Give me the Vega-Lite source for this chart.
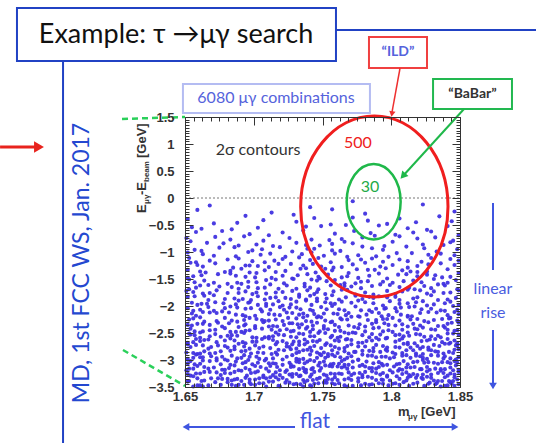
{
"$schema":"https://vega.github.io/schema/vega-lite/v6.json",
"width":275,"height":270,
"autosize":{"type":"none"},
"padding":{"left":185,"top":117,"right":76,"bottom":56},
"background":"white",
"config":{"view":{"stroke":null}},
"resolve":{"axis":{"x":"independent","y":"independent"}},
"datasets":{
"pts":[
{"m":1.772,"e":-0.06},
{"m":1.668,"e":-0.14},{"m":1.741,"e":-0.17},{"m":1.823,"e":-0.12},
{"m":1.713,"e":-0.27},{"m":1.659,"e":-0.22},{"m":1.846,"e":-0.25},{"m":1.781,"e":-0.29},{"m":1.757,"e":-0.21},
{"m":1.694,"e":-0.33},{"m":1.806,"e":-0.38},{"m":1.729,"e":-0.31},{"m":1.772,"e":-0.36},{"m":1.652,"e":-0.39},{"m":1.835,"e":-0.34},{"m":1.744,"e":-0.37},
{"m":1.783,"e":-0.42},{"m":1.671,"e":-0.47},{"m":1.818,"e":-0.45},{"m":1.707,"e":-0.41},{"m":1.756,"e":-0.49},{"m":1.844,"e":-0.43},{"m":1.688,"e":-0.46},{"m":1.731,"e":-0.44},{"m":1.797,"e":-0.48},
{"m":1.662,"e":-0.57},{"m":1.749,"e":-0.52},{"m":1.826,"e":-0.59},{"m":1.703,"e":-0.55},{"m":1.791,"e":-0.51},{"m":1.684,"e":-0.58},{"m":1.738,"e":-0.53},{"m":1.812,"e":-0.56},{"m":1.767,"e":-0.5},{"m":1.655,"e":-0.54},{"m":1.841,"e":-0.52},
{"m":1.721,"e":-0.64},{"m":1.677,"e":-0.61},{"m":1.803,"e":-0.68},{"m":1.759,"e":-0.66},{"m":1.658,"e":-0.63},{"m":1.849,"e":-0.69},{"m":1.736,"e":-0.6},{"m":1.785,"e":-0.65},{"m":1.697,"e":-0.67},{"m":1.829,"e":-0.62},{"m":1.711,"e":-0.69},{"m":1.773,"e":-0.61},{"m":1.816,"e":-0.64},
{"m":1.693,"e":-0.71},{"m":1.764,"e":-0.76},{"m":1.832,"e":-0.73},{"m":1.707,"e":-0.79},{"m":1.651,"e":-0.74},{"m":1.788,"e":-0.7},{"m":1.742,"e":-0.77},{"m":1.819,"e":-0.75},{"m":1.672,"e":-0.72},{"m":1.755,"e":-0.78},{"m":1.806,"e":-0.71},{"m":1.726,"e":-0.74},{"m":1.683,"e":-0.77},{"m":1.845,"e":-0.79},{"m":1.779,"e":-0.73},
{"m":1.666,"e":-0.83},{"m":1.738,"e":-0.87},{"m":1.801,"e":-0.81},{"m":1.757,"e":-0.85},{"m":1.714,"e":-0.89},{"m":1.843,"e":-0.82},{"m":1.689,"e":-0.88},{"m":1.772,"e":-0.84},{"m":1.823,"e":-0.86},{"m":1.654,"e":-0.8},{"m":1.731,"e":-0.83},{"m":1.795,"e":-0.89},{"m":1.702,"e":-0.86},{"m":1.766,"e":-0.81},{"m":1.838,"e":-0.87},{"m":1.678,"e":-0.84},{"m":1.748,"e":-0.88},
{"m":1.719,"e":-0.91},{"m":1.657,"e":-0.96},{"m":1.786,"e":-0.93},{"m":1.833,"e":-0.99},{"m":1.744,"e":-0.94},{"m":1.699,"e":-0.97},{"m":1.811,"e":-0.9},{"m":1.763,"e":-0.98},{"m":1.675,"e":-0.92},{"m":1.848,"e":-0.95},{"m":1.728,"e":-0.99},{"m":1.794,"e":-0.96},{"m":1.686,"e":-0.91},{"m":1.757,"e":-0.97},{"m":1.824,"e":-0.93},{"m":1.706,"e":-0.95},{"m":1.662,"e":-0.98},{"m":1.779,"e":-0.9},{"m":1.739,"e":-0.94},
{"m":1.804,"e":-1.02},{"m":1.671,"e":-1.07},{"m":1.735,"e":-1.04},{"m":1.768,"e":-1.09},{"m":1.652,"e":-1.01},{"m":1.846,"e":-1.06},{"m":1.712,"e":-1.03},{"m":1.789,"e":-1.08},{"m":1.696,"e":-1.0},{"m":1.827,"e":-1.05},{"m":1.751,"e":-1.07},{"m":1.663,"e":-1.04},{"m":1.723,"e":-1.09},{"m":1.815,"e":-1.02},{"m":1.776,"e":-1.06},{"m":1.687,"e":-1.08},{"m":1.742,"e":-1.01},{"m":1.836,"e":-1.03},{"m":1.705,"e":-1.05},{"m":1.798,"e":-1.09},{"m":1.759,"e":-1.03},
{"m":1.681,"e":-1.14},{"m":1.747,"e":-1.11},{"m":1.822,"e":-1.18},{"m":1.715,"e":-1.16},{"m":1.786,"e":-1.12},{"m":1.658,"e":-1.19},{"m":1.769,"e":-1.15},{"m":1.843,"e":-1.13},{"m":1.699,"e":-1.17},{"m":1.733,"e":-1.1},{"m":1.806,"e":-1.14},{"m":1.668,"e":-1.16},{"m":1.756,"e":-1.19},{"m":1.829,"e":-1.11},{"m":1.721,"e":-1.13},{"m":1.794,"e":-1.18},{"m":1.689,"e":-1.12},{"m":1.741,"e":-1.15},{"m":1.812,"e":-1.17},{"m":1.653,"e":-1.11},{"m":1.778,"e":-1.14},{"m":1.708,"e":-1.19},{"m":1.849,"e":-1.16},
{"m":1.727,"e":-1.22},{"m":1.663,"e":-1.27},{"m":1.801,"e":-1.24},{"m":1.758,"e":-1.29},{"m":1.836,"e":-1.21},{"m":1.694,"e":-1.25},{"m":1.772,"e":-1.23},{"m":1.711,"e":-1.28},{"m":1.654,"e":-1.2},{"m":1.819,"e":-1.26},{"m":1.743,"e":-1.22},{"m":1.685,"e":-1.29},{"m":1.792,"e":-1.27},{"m":1.846,"e":-1.24},{"m":1.736,"e":-1.25},{"m":1.672,"e":-1.21},{"m":1.764,"e":-1.28},{"m":1.827,"e":-1.23},{"m":1.703,"e":-1.26},{"m":1.781,"e":-1.2},{"m":1.659,"e":-1.24},{"m":1.749,"e":-1.27},{"m":1.812,"e":-1.29},{"m":1.718,"e":-1.22},{"m":1.697,"e":-1.25},
{"m":1.788,"e":-1.33},{"m":1.665,"e":-1.38},{"m":1.734,"e":-1.31},{"m":1.814,"e":-1.36},{"m":1.702,"e":-1.39},{"m":1.757,"e":-1.34},{"m":1.841,"e":-1.32},{"m":1.679,"e":-1.37},{"m":1.723,"e":-1.35},{"m":1.796,"e":-1.3},{"m":1.652,"e":-1.33},{"m":1.769,"e":-1.39},{"m":1.826,"e":-1.36},{"m":1.691,"e":-1.31},{"m":1.745,"e":-1.38},{"m":1.808,"e":-1.34},{"m":1.716,"e":-1.37},{"m":1.775,"e":-1.32},{"m":1.683,"e":-1.35},{"m":1.849,"e":-1.39},{"m":1.738,"e":-1.3},{"m":1.661,"e":-1.36},{"m":1.783,"e":-1.33},{"m":1.819,"e":-1.37},{"m":1.708,"e":-1.34},{"m":1.752,"e":-1.31},{"m":1.697,"e":-1.38},
{"m":1.674,"e":-1.41},{"m":1.747,"e":-1.46},{"m":1.832,"e":-1.43},{"m":1.713,"e":-1.48},{"m":1.791,"e":-1.4},{"m":1.656,"e":-1.45},{"m":1.764,"e":-1.47},{"m":1.805,"e":-1.42},{"m":1.728,"e":-1.49},{"m":1.687,"e":-1.44},{"m":1.843,"e":-1.46},{"m":1.739,"e":-1.41},{"m":1.776,"e":-1.48},{"m":1.662,"e":-1.43},{"m":1.819,"e":-1.45},{"m":1.701,"e":-1.47},{"m":1.754,"e":-1.42},{"m":1.797,"e":-1.49},{"m":1.721,"e":-1.44},{"m":1.683,"e":-1.4},{"m":1.837,"e":-1.47},{"m":1.768,"e":-1.45},{"m":1.652,"e":-1.48},{"m":1.732,"e":-1.43},{"m":1.811,"e":-1.41},{"m":1.694,"e":-1.46},{"m":1.784,"e":-1.44},{"m":1.748,"e":-1.49},{"m":1.826,"e":-1.42},
{"m":1.709,"e":-1.52},{"m":1.671,"e":-1.57},{"m":1.783,"e":-1.54},{"m":1.838,"e":-1.59},{"m":1.742,"e":-1.51},{"m":1.657,"e":-1.56},{"m":1.816,"e":-1.53},{"m":1.766,"e":-1.58},{"m":1.696,"e":-1.55},{"m":1.729,"e":-1.5},{"m":1.801,"e":-1.57},{"m":1.847,"e":-1.52},{"m":1.681,"e":-1.59},{"m":1.753,"e":-1.54},{"m":1.822,"e":-1.56},{"m":1.716,"e":-1.51},{"m":1.774,"e":-1.58},{"m":1.664,"e":-1.53},{"m":1.794,"e":-1.55},{"m":1.737,"e":-1.59},{"m":1.831,"e":-1.5},{"m":1.702,"e":-1.56},{"m":1.759,"e":-1.52},{"m":1.688,"e":-1.57},{"m":1.809,"e":-1.54},{"m":1.722,"e":-1.58},{"m":1.653,"e":-1.51},{"m":1.778,"e":-1.55},{"m":1.841,"e":-1.57},{"m":1.746,"e":-1.53},{"m":1.691,"e":-1.59},
{"m":1.763,"e":-1.61},{"m":1.658,"e":-1.66},{"m":1.824,"e":-1.63},{"m":1.718,"e":-1.68},{"m":1.792,"e":-1.6},{"m":1.684,"e":-1.65},{"m":1.747,"e":-1.69},{"m":1.839,"e":-1.62},{"m":1.703,"e":-1.67},{"m":1.771,"e":-1.64},{"m":1.667,"e":-1.61},{"m":1.813,"e":-1.66},{"m":1.731,"e":-1.68},{"m":1.786,"e":-1.63},{"m":1.696,"e":-1.65},{"m":1.848,"e":-1.69},{"m":1.756,"e":-1.62},{"m":1.712,"e":-1.6},{"m":1.829,"e":-1.67},{"m":1.675,"e":-1.64},{"m":1.799,"e":-1.61},{"m":1.741,"e":-1.66},{"m":1.653,"e":-1.69},{"m":1.766,"e":-1.63},{"m":1.806,"e":-1.65},{"m":1.724,"e":-1.62},{"m":1.689,"e":-1.68},{"m":1.834,"e":-1.6},{"m":1.778,"e":-1.67},{"m":1.737,"e":-1.64},{"m":1.661,"e":-1.62},{"m":1.817,"e":-1.69},{"m":1.708,"e":-1.66},
{"m":1.694,"e":-1.73},{"m":1.752,"e":-1.78},{"m":1.821,"e":-1.71},{"m":1.668,"e":-1.76},{"m":1.787,"e":-1.79},{"m":1.728,"e":-1.72},{"m":1.843,"e":-1.75},{"m":1.709,"e":-1.77},{"m":1.764,"e":-1.7},{"m":1.656,"e":-1.74},{"m":1.803,"e":-1.78},{"m":1.739,"e":-1.71},{"m":1.681,"e":-1.76},{"m":1.831,"e":-1.73},{"m":1.774,"e":-1.79},{"m":1.716,"e":-1.75},{"m":1.797,"e":-1.72},{"m":1.663,"e":-1.77},{"m":1.746,"e":-1.74},{"m":1.812,"e":-1.7},{"m":1.699,"e":-1.78},{"m":1.758,"e":-1.73},{"m":1.838,"e":-1.76},{"m":1.673,"e":-1.71},{"m":1.733,"e":-1.79},{"m":1.781,"e":-1.75},{"m":1.651,"e":-1.72},{"m":1.826,"e":-1.77},{"m":1.721,"e":-1.74},{"m":1.768,"e":-1.7},{"m":1.689,"e":-1.76},{"m":1.808,"e":-1.73},{"m":1.744,"e":-1.78},{"m":1.849,"e":-1.71},{"m":1.702,"e":-1.75},
{"m":1.657,"e":-1.82},{"m":1.779,"e":-1.87},{"m":1.716,"e":-1.84},{"m":1.834,"e":-1.89},{"m":1.741,"e":-1.81},{"m":1.686,"e":-1.86},{"m":1.803,"e":-1.83},{"m":1.762,"e":-1.88},{"m":1.671,"e":-1.8},{"m":1.847,"e":-1.85},{"m":1.727,"e":-1.87},{"m":1.791,"e":-1.82},{"m":1.698,"e":-1.89},{"m":1.819,"e":-1.84},{"m":1.753,"e":-1.86},{"m":1.664,"e":-1.81},{"m":1.738,"e":-1.88},{"m":1.784,"e":-1.83},{"m":1.712,"e":-1.85},{"m":1.829,"e":-1.8},{"m":1.679,"e":-1.87},{"m":1.767,"e":-1.84},{"m":1.806,"e":-1.89},{"m":1.703,"e":-1.82},{"m":1.746,"e":-1.86},{"m":1.652,"e":-1.83},{"m":1.841,"e":-1.88},{"m":1.774,"e":-1.81},{"m":1.723,"e":-1.85},{"m":1.692,"e":-1.87},{"m":1.797,"e":-1.84},{"m":1.757,"e":-1.8},{"m":1.816,"e":-1.86},{"m":1.667,"e":-1.89},{"m":1.733,"e":-1.83},{"m":1.787,"e":-1.85},{"m":1.708,"e":-1.88},
{"m":1.746,"e":-1.91},{"m":1.662,"e":-1.96},{"m":1.818,"e":-1.93},{"m":1.703,"e":-1.98},{"m":1.776,"e":-1.9},{"m":1.839,"e":-1.95},{"m":1.687,"e":-1.97},{"m":1.731,"e":-1.92},{"m":1.794,"e":-1.99},{"m":1.655,"e":-1.94},{"m":1.759,"e":-1.96},{"m":1.823,"e":-1.91},{"m":1.714,"e":-1.97},{"m":1.672,"e":-1.93},{"m":1.787,"e":-1.95},{"m":1.849,"e":-1.98},{"m":1.738,"e":-1.9},{"m":1.696,"e":-1.94},{"m":1.806,"e":-1.96},{"m":1.764,"e":-1.92},{"m":1.721,"e":-1.99},{"m":1.678,"e":-1.95},{"m":1.831,"e":-1.97},{"m":1.752,"e":-1.93},{"m":1.799,"e":-1.91},{"m":1.659,"e":-1.98},{"m":1.709,"e":-1.96},{"m":1.771,"e":-1.94},{"m":1.843,"e":-1.92},{"m":1.727,"e":-1.97},{"m":1.689,"e":-1.9},{"m":1.812,"e":-1.95},{"m":1.742,"e":-1.98},{"m":1.781,"e":-1.93},{"m":1.666,"e":-1.96},{"m":1.826,"e":-1.99},{"m":1.718,"e":-1.91},{"m":1.756,"e":-1.95},{"m":1.697,"e":-1.93},
{"m":1.683,"e":-2.01},{"m":1.734,"e":-2.06},{"m":1.807,"e":-2.03},{"m":1.766,"e":-2.08},{"m":1.652,"e":-2.04},{"m":1.845,"e":-2.0},{"m":1.712,"e":-2.07},{"m":1.789,"e":-2.05},{"m":1.671,"e":-2.09},{"m":1.749,"e":-2.02},{"m":1.822,"e":-2.06},{"m":1.698,"e":-2.04},{"m":1.774,"e":-2.01},{"m":1.836,"e":-2.08},{"m":1.726,"e":-2.03},{"m":1.661,"e":-2.07},{"m":1.795,"e":-2.05},{"m":1.743,"e":-2.09},{"m":1.813,"e":-2.02},{"m":1.705,"e":-2.06},{"m":1.757,"e":-2.0},{"m":1.679,"e":-2.04},{"m":1.848,"e":-2.07},{"m":1.731,"e":-2.03},{"m":1.784,"e":-2.08},{"m":1.694,"e":-2.05},{"m":1.817,"e":-2.01},{"m":1.762,"e":-2.06},{"m":1.656,"e":-2.09},{"m":1.719,"e":-2.02},{"m":1.803,"e":-2.04},{"m":1.741,"e":-2.07},{"m":1.829,"e":-2.05},{"m":1.688,"e":-2.03},{"m":1.778,"e":-2.08},{"m":1.709,"e":-2.0},{"m":1.753,"e":-2.06},{"m":1.667,"e":-2.02},{"m":1.839,"e":-2.09},{"m":1.796,"e":-2.04},{"m":1.722,"e":-2.07},
{"m":1.769,"e":-2.13},{"m":1.658,"e":-2.18},{"m":1.827,"e":-2.11},{"m":1.715,"e":-2.16},{"m":1.793,"e":-2.19},{"m":1.682,"e":-2.12},{"m":1.744,"e":-2.15},{"m":1.841,"e":-2.17},{"m":1.706,"e":-2.1},{"m":1.758,"e":-2.14},{"m":1.812,"e":-2.18},{"m":1.673,"e":-2.13},{"m":1.733,"e":-2.16},{"m":1.786,"e":-2.11},{"m":1.694,"e":-2.19},{"m":1.849,"e":-2.15},{"m":1.724,"e":-2.12},{"m":1.767,"e":-2.17},{"m":1.655,"e":-2.14},{"m":1.804,"e":-2.1},{"m":1.739,"e":-2.18},{"m":1.687,"e":-2.16},{"m":1.821,"e":-2.13},{"m":1.776,"e":-2.19},{"m":1.711,"e":-2.15},{"m":1.663,"e":-2.11},{"m":1.798,"e":-2.17},{"m":1.751,"e":-2.14},{"m":1.833,"e":-2.12},{"m":1.701,"e":-2.18},{"m":1.782,"e":-2.16},{"m":1.677,"e":-2.1},{"m":1.728,"e":-2.13},{"m":1.815,"e":-2.19},{"m":1.761,"e":-2.15},{"m":1.692,"e":-2.17},{"m":1.846,"e":-2.11},{"m":1.736,"e":-2.14},{"m":1.807,"e":-2.16},{"m":1.668,"e":-2.12},{"m":1.747,"e":-2.19},{"m":1.791,"e":-2.13},{"m":1.719,"e":-2.17},
{"m":1.697,"e":-2.22},{"m":1.752,"e":-2.27},{"m":1.819,"e":-2.24},{"m":1.664,"e":-2.29},{"m":1.736,"e":-2.21},{"m":1.783,"e":-2.26},{"m":1.842,"e":-2.23},{"m":1.708,"e":-2.28},{"m":1.771,"e":-2.2},{"m":1.653,"e":-2.25},{"m":1.806,"e":-2.27},{"m":1.725,"e":-2.22},{"m":1.688,"e":-2.29},{"m":1.794,"e":-2.24},{"m":1.831,"e":-2.26},{"m":1.746,"e":-2.21},{"m":1.673,"e":-2.28},{"m":1.763,"e":-2.23},{"m":1.716,"e":-2.25},{"m":1.812,"e":-2.2},{"m":1.848,"e":-2.27},{"m":1.702,"e":-2.24},{"m":1.757,"e":-2.29},{"m":1.679,"e":-2.22},{"m":1.789,"e":-2.26},{"m":1.731,"e":-2.23},{"m":1.824,"e":-2.28},{"m":1.661,"e":-2.21},{"m":1.768,"e":-2.25},{"m":1.711,"e":-2.27},{"m":1.801,"e":-2.22},{"m":1.742,"e":-2.29},{"m":1.837,"e":-2.24},{"m":1.693,"e":-2.26},{"m":1.777,"e":-2.2},{"m":1.721,"e":-2.28},{"m":1.656,"e":-2.23},{"m":1.814,"e":-2.25},{"m":1.749,"e":-2.21},{"m":1.684,"e":-2.27},{"m":1.797,"e":-2.24},{"m":1.738,"e":-2.28},{"m":1.843,"e":-2.22},{"m":1.706,"e":-2.26},{"m":1.764,"e":-2.25},
{"m":1.674,"e":-2.31},{"m":1.743,"e":-2.36},{"m":1.816,"e":-2.33},{"m":1.781,"e":-2.38},{"m":1.707,"e":-2.3},{"m":1.652,"e":-2.35},{"m":1.838,"e":-2.37},{"m":1.728,"e":-2.32},{"m":1.762,"e":-2.39},{"m":1.694,"e":-2.34},{"m":1.803,"e":-2.36},{"m":1.849,"e":-2.31},{"m":1.717,"e":-2.38},{"m":1.786,"e":-2.33},{"m":1.668,"e":-2.35},{"m":1.751,"e":-2.37},{"m":1.827,"e":-2.3},{"m":1.735,"e":-2.34},{"m":1.689,"e":-2.39},{"m":1.795,"e":-2.32},{"m":1.769,"e":-2.36},{"m":1.659,"e":-2.33},{"m":1.812,"e":-2.38},{"m":1.722,"e":-2.35},{"m":1.844,"e":-2.31},{"m":1.701,"e":-2.37},{"m":1.777,"e":-2.34},{"m":1.739,"e":-2.39},{"m":1.682,"e":-2.32},{"m":1.821,"e":-2.36},{"m":1.756,"e":-2.3},{"m":1.711,"e":-2.38},{"m":1.798,"e":-2.35},{"m":1.663,"e":-2.33},{"m":1.834,"e":-2.37},{"m":1.746,"e":-2.31},{"m":1.693,"e":-2.36},{"m":1.773,"e":-2.39},{"m":1.808,"e":-2.34},{"m":1.726,"e":-2.32},{"m":1.677,"e":-2.38},{"m":1.759,"e":-2.35},{"m":1.841,"e":-2.33},{"m":1.714,"e":-2.37},{"m":1.789,"e":-2.3},{"m":1.655,"e":-2.36},{"m":1.732,"e":-2.34},
{"m":1.738,"e":-2.42},{"m":1.663,"e":-2.47},{"m":1.808,"e":-2.44},{"m":1.772,"e":-2.49},{"m":1.701,"e":-2.41},{"m":1.846,"e":-2.46},{"m":1.754,"e":-2.43},{"m":1.687,"e":-2.48},{"m":1.823,"e":-2.4},{"m":1.719,"e":-2.45},{"m":1.794,"e":-2.47},{"m":1.654,"e":-2.42},{"m":1.766,"e":-2.49},{"m":1.832,"e":-2.44},{"m":1.729,"e":-2.46},{"m":1.679,"e":-2.41},{"m":1.801,"e":-2.48},{"m":1.743,"e":-2.43},{"m":1.697,"e":-2.45},{"m":1.839,"e":-2.4},{"m":1.781,"e":-2.47},{"m":1.713,"e":-2.44},{"m":1.661,"e":-2.49},{"m":1.817,"e":-2.42},{"m":1.759,"e":-2.46},{"m":1.724,"e":-2.43},{"m":1.691,"e":-2.48},{"m":1.848,"e":-2.45},{"m":1.787,"e":-2.41},{"m":1.748,"e":-2.47},{"m":1.672,"e":-2.44},{"m":1.812,"e":-2.49},{"m":1.706,"e":-2.42},{"m":1.763,"e":-2.46},{"m":1.829,"e":-2.43},{"m":1.733,"e":-2.4},{"m":1.683,"e":-2.48},{"m":1.798,"e":-2.45},{"m":1.657,"e":-2.47},{"m":1.776,"e":-2.41},{"m":1.841,"e":-2.44},{"m":1.716,"e":-2.49},{"m":1.751,"e":-2.42},{"m":1.694,"e":-2.46},{"m":1.819,"e":-2.43},{"m":1.741,"e":-2.48},{"m":1.668,"e":-2.45},{"m":1.791,"e":-2.4},{"m":1.727,"e":-2.47},
{"m":1.653,"e":-2.51},{"m":1.714,"e":-2.56},{"m":1.792,"e":-2.53},{"m":1.836,"e":-2.58},{"m":1.747,"e":-2.5},{"m":1.681,"e":-2.55},{"m":1.763,"e":-2.57},{"m":1.818,"e":-2.52},{"m":1.702,"e":-2.59},{"m":1.779,"e":-2.54},{"m":1.668,"e":-2.56},{"m":1.845,"e":-2.51},{"m":1.731,"e":-2.58},{"m":1.806,"e":-2.53},{"m":1.757,"e":-2.55},{"m":1.693,"e":-2.5},{"m":1.824,"e":-2.57},{"m":1.722,"e":-2.54},{"m":1.661,"e":-2.59},{"m":1.786,"e":-2.52},{"m":1.741,"e":-2.56},{"m":1.849,"e":-2.53},{"m":1.708,"e":-2.58},{"m":1.769,"e":-2.51},{"m":1.813,"e":-2.55},{"m":1.676,"e":-2.57},{"m":1.736,"e":-2.52},{"m":1.797,"e":-2.59},{"m":1.657,"e":-2.54},{"m":1.829,"e":-2.56},{"m":1.752,"e":-2.5},{"m":1.718,"e":-2.53},{"m":1.784,"e":-2.58},{"m":1.688,"e":-2.55},{"m":1.841,"e":-2.51},{"m":1.727,"e":-2.57},{"m":1.803,"e":-2.54},{"m":1.761,"e":-2.59},{"m":1.672,"e":-2.52},{"m":1.744,"e":-2.56},{"m":1.821,"e":-2.53},{"m":1.699,"e":-2.58},{"m":1.774,"e":-2.5},{"m":1.834,"e":-2.55},{"m":1.711,"e":-2.57},{"m":1.654,"e":-2.53},{"m":1.789,"e":-2.59},{"m":1.733,"e":-2.51},{"m":1.809,"e":-2.56},{"m":1.684,"e":-2.54},{"m":1.756,"e":-2.58},
{"m":1.767,"e":-2.62},{"m":1.692,"e":-2.67},{"m":1.826,"e":-2.64},{"m":1.724,"e":-2.69},{"m":1.658,"e":-2.61},{"m":1.803,"e":-2.66},{"m":1.748,"e":-2.63},{"m":1.843,"e":-2.68},{"m":1.711,"e":-2.6},{"m":1.782,"e":-2.65},{"m":1.673,"e":-2.67},{"m":1.737,"e":-2.62},{"m":1.817,"e":-2.69},{"m":1.759,"e":-2.64},{"m":1.699,"e":-2.66},{"m":1.832,"e":-2.61},{"m":1.776,"e":-2.68},{"m":1.664,"e":-2.63},{"m":1.743,"e":-2.65},{"m":1.808,"e":-2.6},{"m":1.717,"e":-2.67},{"m":1.686,"e":-2.64},{"m":1.848,"e":-2.69},{"m":1.791,"e":-2.62},{"m":1.729,"e":-2.66},{"m":1.652,"e":-2.68},{"m":1.771,"e":-2.63},{"m":1.822,"e":-2.65},{"m":1.706,"e":-2.61},{"m":1.753,"e":-2.69},{"m":1.679,"e":-2.64},{"m":1.837,"e":-2.67},{"m":1.796,"e":-2.6},{"m":1.733,"e":-2.66},{"m":1.667,"e":-2.62},{"m":1.812,"e":-2.68},{"m":1.762,"e":-2.65},{"m":1.714,"e":-2.63},{"m":1.841,"e":-2.61},{"m":1.694,"e":-2.69},{"m":1.786,"e":-2.64},{"m":1.746,"e":-2.66},{"m":1.656,"e":-2.67},{"m":1.828,"e":-2.62},{"m":1.721,"e":-2.65},{"m":1.779,"e":-2.68},{"m":1.683,"e":-2.6},{"m":1.806,"e":-2.63},{"m":1.739,"e":-2.67},{"m":1.846,"e":-2.64},{"m":1.702,"e":-2.66},{"m":1.768,"e":-2.61},{"m":1.661,"e":-2.65},
{"m":1.728,"e":-2.71},{"m":1.803,"e":-2.76},{"m":1.663,"e":-2.73},{"m":1.766,"e":-2.78},{"m":1.839,"e":-2.7},{"m":1.707,"e":-2.75},{"m":1.681,"e":-2.77},{"m":1.752,"e":-2.72},{"m":1.821,"e":-2.79},{"m":1.794,"e":-2.74},{"m":1.654,"e":-2.76},{"m":1.737,"e":-2.71},{"m":1.848,"e":-2.73},{"m":1.712,"e":-2.78},{"m":1.776,"e":-2.75},{"m":1.689,"e":-2.7},{"m":1.814,"e":-2.77},{"m":1.744,"e":-2.74},{"m":1.667,"e":-2.79},{"m":1.831,"e":-2.72},{"m":1.759,"e":-2.76},{"m":1.701,"e":-2.73},{"m":1.787,"e":-2.78},{"m":1.724,"e":-2.75},{"m":1.652,"e":-2.71},{"m":1.806,"e":-2.77},{"m":1.768,"e":-2.74},{"m":1.842,"e":-2.7},{"m":1.697,"e":-2.79},{"m":1.733,"e":-2.72},{"m":1.823,"e":-2.76},{"m":1.674,"e":-2.73},{"m":1.781,"e":-2.75},{"m":1.749,"e":-2.78},{"m":1.716,"e":-2.71},{"m":1.835,"e":-2.74},{"m":1.797,"e":-2.77},{"m":1.658,"e":-2.72},{"m":1.762,"e":-2.79},{"m":1.726,"e":-2.76},{"m":1.809,"e":-2.7},{"m":1.686,"e":-2.75},{"m":1.847,"e":-2.73},{"m":1.741,"e":-2.77},{"m":1.771,"e":-2.71},{"m":1.704,"e":-2.78},{"m":1.819,"e":-2.74},{"m":1.669,"e":-2.76},{"m":1.789,"e":-2.72},{"m":1.731,"e":-2.79},{"m":1.756,"e":-2.73},{"m":1.827,"e":-2.77},{"m":1.693,"e":-2.75},{"m":1.812,"e":-2.71},{"m":1.679,"e":-2.74},
{"m":1.757,"e":-2.82},{"m":1.672,"e":-2.87},{"m":1.832,"e":-2.84},{"m":1.713,"e":-2.89},{"m":1.796,"e":-2.81},{"m":1.651,"e":-2.86},{"m":1.742,"e":-2.83},{"m":1.818,"e":-2.88},{"m":1.686,"e":-2.8},{"m":1.774,"e":-2.85},{"m":1.845,"e":-2.87},{"m":1.722,"e":-2.82},{"m":1.803,"e":-2.89},{"m":1.664,"e":-2.84},{"m":1.751,"e":-2.86},{"m":1.827,"e":-2.81},{"m":1.698,"e":-2.88},{"m":1.784,"e":-2.83},{"m":1.733,"e":-2.85},{"m":1.849,"e":-2.8},{"m":1.707,"e":-2.87},{"m":1.766,"e":-2.84},{"m":1.659,"e":-2.89},{"m":1.811,"e":-2.82},{"m":1.746,"e":-2.86},{"m":1.683,"e":-2.83},{"m":1.838,"e":-2.88},{"m":1.792,"e":-2.85},{"m":1.718,"e":-2.81},{"m":1.761,"e":-2.87},{"m":1.676,"e":-2.84},{"m":1.823,"e":-2.89},{"m":1.736,"e":-2.82},{"m":1.801,"e":-2.86},{"m":1.694,"e":-2.83},{"m":1.769,"e":-2.88},{"m":1.842,"e":-2.85},{"m":1.727,"e":-2.8},{"m":1.656,"e":-2.87},{"m":1.787,"e":-2.84},{"m":1.748,"e":-2.89},{"m":1.816,"e":-2.82},{"m":1.703,"e":-2.86},{"m":1.779,"e":-2.83},{"m":1.668,"e":-2.88},{"m":1.834,"e":-2.85},{"m":1.739,"e":-2.81},{"m":1.808,"e":-2.87},{"m":1.691,"e":-2.84},{"m":1.754,"e":-2.89},{"m":1.829,"e":-2.82},{"m":1.716,"e":-2.86},{"m":1.797,"e":-2.83},{"m":1.661,"e":-2.88},{"m":1.773,"e":-2.85},{"m":1.731,"e":-2.87},{"m":1.846,"e":-2.81},
{"m":1.693,"e":-2.91},{"m":1.768,"e":-2.96},{"m":1.821,"e":-2.93},{"m":1.736,"e":-2.98},{"m":1.658,"e":-2.9},{"m":1.802,"e":-2.95},{"m":1.714,"e":-2.97},{"m":1.783,"e":-2.92},{"m":1.847,"e":-2.99},{"m":1.677,"e":-2.94},{"m":1.752,"e":-2.96},{"m":1.829,"e":-2.91},{"m":1.704,"e":-2.98},{"m":1.771,"e":-2.93},{"m":1.663,"e":-2.95},{"m":1.838,"e":-2.97},{"m":1.741,"e":-2.9},{"m":1.796,"e":-2.94},{"m":1.721,"e":-2.99},{"m":1.684,"e":-2.92},{"m":1.814,"e":-2.96},{"m":1.759,"e":-2.93},{"m":1.652,"e":-2.98},{"m":1.789,"e":-2.95},{"m":1.728,"e":-2.91},{"m":1.843,"e":-2.97},{"m":1.697,"e":-2.94},{"m":1.776,"e":-2.99},{"m":1.808,"e":-2.92},{"m":1.746,"e":-2.96},{"m":1.669,"e":-2.93},{"m":1.826,"e":-2.98},{"m":1.717,"e":-2.9},{"m":1.763,"e":-2.95},{"m":1.688,"e":-2.97},{"m":1.834,"e":-2.92},{"m":1.793,"e":-2.94},{"m":1.733,"e":-2.99},{"m":1.656,"e":-2.96},{"m":1.811,"e":-2.91},{"m":1.754,"e":-2.93},{"m":1.709,"e":-2.98},{"m":1.849,"e":-2.95},{"m":1.779,"e":-2.9},{"m":1.673,"e":-2.97},{"m":1.724,"e":-2.94},{"m":1.818,"e":-2.92},{"m":1.766,"e":-2.99},{"m":1.691,"e":-2.96},{"m":1.839,"e":-2.93},{"m":1.749,"e":-2.91},{"m":1.799,"e":-2.97},{"m":1.661,"e":-2.95},{"m":1.731,"e":-2.98},{"m":1.786,"e":-2.92},{"m":1.702,"e":-2.94},{"m":1.823,"e":-2.96},{"m":1.757,"e":-2.9},{"m":1.679,"e":-2.99},
{"m":1.744,"e":-3.02},{"m":1.661,"e":-3.07},{"m":1.816,"e":-3.04},{"m":1.779,"e":-3.09},{"m":1.708,"e":-3.01},{"m":1.843,"e":-3.06},{"m":1.687,"e":-3.03},{"m":1.756,"e":-3.08},{"m":1.823,"e":-3.0},{"m":1.726,"e":-3.05},{"m":1.793,"e":-3.07},{"m":1.654,"e":-3.02},{"m":1.769,"e":-3.09},{"m":1.837,"e":-3.04},{"m":1.714,"e":-3.06},{"m":1.681,"e":-3.01},{"m":1.804,"e":-3.08},{"m":1.739,"e":-3.03},{"m":1.848,"e":-3.05},{"m":1.696,"e":-3.0},{"m":1.762,"e":-3.07},{"m":1.827,"e":-3.04},{"m":1.721,"e":-3.09},{"m":1.668,"e":-3.02},{"m":1.787,"e":-3.06},{"m":1.751,"e":-3.03},{"m":1.812,"e":-3.08},{"m":1.703,"e":-3.05},{"m":1.673,"e":-3.01},{"m":1.834,"e":-3.07},{"m":1.733,"e":-3.04},{"m":1.797,"e":-3.09},{"m":1.764,"e":-3.02},{"m":1.692,"e":-3.06},{"m":1.819,"e":-3.03},{"m":1.657,"e":-3.08},{"m":1.748,"e":-3.05},{"m":1.776,"e":-3.0},{"m":1.716,"e":-3.07},{"m":1.841,"e":-3.04},{"m":1.683,"e":-3.09},{"m":1.809,"e":-3.02},{"m":1.737,"e":-3.06},{"m":1.772,"e":-3.03},{"m":1.699,"e":-3.08},{"m":1.831,"e":-3.05},{"m":1.663,"e":-3.01},{"m":1.758,"e":-3.07},{"m":1.791,"e":-3.04},{"m":1.727,"e":-3.09},{"m":1.846,"e":-3.02},{"m":1.711,"e":-3.06},{"m":1.782,"e":-3.03},{"m":1.676,"e":-3.08},{"m":1.824,"e":-3.05},{"m":1.741,"e":-3.0},{"m":1.806,"e":-3.07},{"m":1.694,"e":-3.04},{"m":1.766,"e":-3.09},{"m":1.652,"e":-3.06},{"m":1.731,"e":-3.03},
{"m":1.712,"e":-3.11},{"m":1.789,"e":-3.16},{"m":1.664,"e":-3.13},{"m":1.828,"e":-3.18},{"m":1.747,"e":-3.1},{"m":1.682,"e":-3.15},{"m":1.806,"e":-3.17},{"m":1.761,"e":-3.12},{"m":1.724,"e":-3.19},{"m":1.843,"e":-3.14},{"m":1.653,"e":-3.16},{"m":1.777,"e":-3.11},{"m":1.738,"e":-3.18},{"m":1.817,"e":-3.13},{"m":1.694,"e":-3.15},{"m":1.752,"e":-3.1},{"m":1.836,"e":-3.17},{"m":1.671,"e":-3.14},{"m":1.799,"e":-3.19},{"m":1.729,"e":-3.12},{"m":1.768,"e":-3.16},{"m":1.705,"e":-3.13},{"m":1.849,"e":-3.18},{"m":1.786,"e":-3.15},{"m":1.659,"e":-3.11},{"m":1.742,"e":-3.17},{"m":1.811,"e":-3.14},{"m":1.689,"e":-3.19},{"m":1.757,"e":-3.12},{"m":1.832,"e":-3.16},{"m":1.717,"e":-3.13},{"m":1.794,"e":-3.1},{"m":1.677,"e":-3.18},{"m":1.736,"e":-3.15},{"m":1.822,"e":-3.17},{"m":1.764,"e":-3.14},{"m":1.701,"e":-3.11},{"m":1.845,"e":-3.19},{"m":1.781,"e":-3.12},{"m":1.656,"e":-3.16},{"m":1.727,"e":-3.13},{"m":1.808,"e":-3.18},{"m":1.749,"e":-3.15},{"m":1.686,"e":-3.1},{"m":1.839,"e":-3.17},{"m":1.772,"e":-3.14},{"m":1.719,"e":-3.19},{"m":1.802,"e":-3.12},{"m":1.667,"e":-3.16},{"m":1.755,"e":-3.11},{"m":1.826,"e":-3.13},{"m":1.697,"e":-3.18},{"m":1.784,"e":-3.15},{"m":1.733,"e":-3.17},{"m":1.814,"e":-3.14},{"m":1.651,"e":-3.19},{"m":1.766,"e":-3.12},{"m":1.709,"e":-3.16},{"m":1.847,"e":-3.1},{"m":1.791,"e":-3.13},{"m":1.679,"e":-3.18},{"m":1.743,"e":-3.15},{"m":1.821,"e":-3.17},
{"m":1.668,"e":-3.22},{"m":1.751,"e":-3.27},{"m":1.834,"e":-3.24},{"m":1.707,"e":-3.29},{"m":1.786,"e":-3.21},{"m":1.652,"e":-3.26},{"m":1.738,"e":-3.23},{"m":1.813,"e":-3.28},{"m":1.691,"e":-3.2},{"m":1.773,"e":-3.25},{"m":1.846,"e":-3.27},{"m":1.723,"e":-3.22},{"m":1.797,"e":-3.29},{"m":1.679,"e":-3.24},{"m":1.759,"e":-3.26},{"m":1.826,"e":-3.21},{"m":1.714,"e":-3.28},{"m":1.769,"e":-3.23},{"m":1.658,"e":-3.25},{"m":1.805,"e":-3.2},{"m":1.742,"e":-3.27},{"m":1.698,"e":-3.24},{"m":1.841,"e":-3.29},{"m":1.781,"e":-3.22},{"m":1.728,"e":-3.26},{"m":1.673,"e":-3.23},{"m":1.819,"e":-3.28},{"m":1.756,"e":-3.25},{"m":1.703,"e":-3.21},{"m":1.792,"e":-3.27},{"m":1.838,"e":-3.24},{"m":1.734,"e":-3.29},{"m":1.686,"e":-3.22},{"m":1.764,"e":-3.26},{"m":1.811,"e":-3.23},{"m":1.719,"e":-3.28},{"m":1.661,"e":-3.25},{"m":1.748,"e":-3.2},{"m":1.829,"e":-3.27},{"m":1.777,"e":-3.24},{"m":1.695,"e":-3.29},{"m":1.849,"e":-3.22},{"m":1.731,"e":-3.26},{"m":1.801,"e":-3.23},{"m":1.676,"e":-3.28},{"m":1.762,"e":-3.25},{"m":1.711,"e":-3.21},{"m":1.823,"e":-3.27},{"m":1.789,"e":-3.24},{"m":1.654,"e":-3.29},{"m":1.744,"e":-3.22},{"m":1.816,"e":-3.26},{"m":1.701,"e":-3.23},{"m":1.771,"e":-3.28},{"m":1.683,"e":-3.25},{"m":1.836,"e":-3.2},{"m":1.726,"e":-3.27},{"m":1.794,"e":-3.24},{"m":1.753,"e":-3.29},{"m":1.664,"e":-3.22},{"m":1.808,"e":-3.26},{"m":1.716,"e":-3.23},{"m":1.779,"e":-3.28},{"m":1.843,"e":-3.25},{"m":1.737,"e":-3.21},
{"m":1.783,"e":-3.31},{"m":1.697,"e":-3.36},{"m":1.822,"e":-3.33},{"m":1.739,"e":-3.38},{"m":1.656,"e":-3.3},{"m":1.806,"e":-3.35},{"m":1.761,"e":-3.37},{"m":1.712,"e":-3.32},{"m":1.845,"e":-3.39},{"m":1.674,"e":-3.34},{"m":1.793,"e":-3.36},{"m":1.728,"e":-3.31},{"m":1.831,"e":-3.38},{"m":1.748,"e":-3.33},{"m":1.688,"e":-3.35},{"m":1.814,"e":-3.3},{"m":1.771,"e":-3.37},{"m":1.704,"e":-3.34},{"m":1.662,"e":-3.39},{"m":1.839,"e":-3.32},{"m":1.757,"e":-3.36},{"m":1.721,"e":-3.33},{"m":1.799,"e":-3.38},{"m":1.681,"e":-3.35},{"m":1.826,"e":-3.31},{"m":1.743,"e":-3.37},{"m":1.776,"e":-3.34},{"m":1.653,"e":-3.39},{"m":1.716,"e":-3.32},{"m":1.848,"e":-3.36},{"m":1.694,"e":-3.33},{"m":1.811,"e":-3.38},{"m":1.754,"e":-3.35},{"m":1.733,"e":-3.3},{"m":1.789,"e":-3.37},{"m":1.669,"e":-3.34},{"m":1.834,"e":-3.39},{"m":1.707,"e":-3.32},{"m":1.766,"e":-3.36},{"m":1.818,"e":-3.33},{"m":1.684,"e":-3.38},{"m":1.746,"e":-3.35},{"m":1.797,"e":-3.31},{"m":1.724,"e":-3.37},{"m":1.659,"e":-3.34},{"m":1.842,"e":-3.39},{"m":1.779,"e":-3.32},{"m":1.701,"e":-3.36},{"m":1.829,"e":-3.33},{"m":1.752,"e":-3.38},{"m":1.677,"e":-3.35},{"m":1.804,"e":-3.3},{"m":1.736,"e":-3.37},{"m":1.769,"e":-3.34},{"m":1.691,"e":-3.39},{"m":1.846,"e":-3.32},{"m":1.718,"e":-3.36},{"m":1.786,"e":-3.33},{"m":1.664,"e":-3.38},{"m":1.823,"e":-3.35},{"m":1.741,"e":-3.31},{"m":1.794,"e":-3.37},{"m":1.709,"e":-3.34},{"m":1.837,"e":-3.39},{"m":1.759,"e":-3.32},{"m":1.686,"e":-3.36},{"m":1.812,"e":-3.33},
{"m":1.726,"e":-3.42},{"m":1.659,"e":-3.47},{"m":1.801,"e":-3.44},{"m":1.768,"e":-3.49},{"m":1.843,"e":-3.41},{"m":1.693,"e":-3.46},{"m":1.747,"e":-3.43},{"m":1.824,"e":-3.48},{"m":1.711,"e":-3.4},{"m":1.786,"e":-3.45},{"m":1.667,"e":-3.47},{"m":1.753,"e":-3.42},{"m":1.836,"e":-3.49},{"m":1.731,"e":-3.44},{"m":1.684,"e":-3.46},{"m":1.809,"e":-3.41},{"m":1.772,"e":-3.48},{"m":1.704,"e":-3.43},{"m":1.849,"e":-3.45},{"m":1.652,"e":-3.4},{"m":1.741,"e":-3.47},{"m":1.794,"e":-3.44},{"m":1.719,"e":-3.49},{"m":1.828,"e":-3.42},{"m":1.676,"e":-3.46},{"m":1.762,"e":-3.43},{"m":1.813,"e":-3.48},{"m":1.698,"e":-3.45},{"m":1.737,"e":-3.41},{"m":1.841,"e":-3.47},{"m":1.781,"e":-3.44},{"m":1.663,"e":-3.49},{"m":1.723,"e":-3.42},{"m":1.806,"e":-3.46},{"m":1.757,"e":-3.43},{"m":1.687,"e":-3.48},{"m":1.832,"e":-3.45},{"m":1.714,"e":-3.4},{"m":1.778,"e":-3.47},{"m":1.744,"e":-3.44},{"m":1.656,"e":-3.49},{"m":1.819,"e":-3.42},{"m":1.701,"e":-3.46},{"m":1.791,"e":-3.43},{"m":1.846,"e":-3.48},{"m":1.734,"e":-3.45},{"m":1.672,"e":-3.41},{"m":1.766,"e":-3.47},{"m":1.827,"e":-3.44},{"m":1.709,"e":-3.49},{"m":1.751,"e":-3.42},{"m":1.689,"e":-3.46},{"m":1.803,"e":-3.43},{"m":1.839,"e":-3.48},{"m":1.729,"e":-3.45},{"m":1.776,"e":-3.4},{"m":1.661,"e":-3.47},{"m":1.816,"e":-3.44},{"m":1.742,"e":-3.49},{"m":1.697,"e":-3.42},{"m":1.784,"e":-3.46},{"m":1.833,"e":-3.43},{"m":1.718,"e":-3.48},{"m":1.759,"e":-3.45},{"m":1.681,"e":-3.41},{"m":1.798,"e":-3.47},{"m":1.844,"e":-3.44},{"m":1.736,"e":-3.49},{"m":1.707,"e":-3.43}
]},
"layer":[
{"data":{"values":[{"x":1.7598,"x2":1.93,"y":3.111,"y2":3.111},{"x":1.5613,"x2":1.5613,"y":2.537,"y2":-4.7}]},
 "mark":{"type":"rule","color":"#2142c4","strokeWidth":2},
 "encoding":{"x":{"field":"x","type":"quantitative","axis":null},"x2":{"field":"x2"},"y":{"field":"y","type":"quantitative","axis":null},"y2":{"field":"y2"}}},
{"data":{"values":[
  {"n":"title","x":1.5278,"x2":1.7598,"y":3.5185,"y2":2.537},
  {"n":"ILD","x":1.7838,"x2":1.826,"y":2.9815,"y2":2.4074},
  {"n":"BaBar","x":1.8304,"x2":1.8878,"y":2.2037,"y2":1.6481},
  {"n":"combos","x":1.6485,"x2":1.7845,"y":2.1111,"y2":1.5741}]},
 "mark":{"type":"rect","fill":"white","strokeWidth":2},
 "encoding":{"x":{"field":"x","type":"quantitative","axis":null},"x2":{"field":"x2"},"y":{"field":"y","type":"quantitative","axis":null},"y2":{"field":"y2"},
  "stroke":{"field":"n","type":"nominal","legend":null,"scale":{"domain":["title","ILD","BaBar","combos"],"range":["#2142c4","#f04040","#22b850","#b4bcf2"]}}}},
{"data":{"values":[{"x":1.6435,"y":3.0185,"t":"Example: τ →μγ search"}]},
 "mark":{"type":"text","font":"Lato","fontSize":27,"color":"#111","align":"center","baseline":"middle"},
 "encoding":{"x":{"field":"x","type":"quantitative","axis":null},"y":{"field":"y","type":"quantitative","axis":null},"text":{"field":"t"}}},
{"data":{"values":[{"x":1.5751,"y":-1.2037,"t":"MD, 1st FCC WS, Jan. 2017"}]},
 "mark":{"type":"text","font":"Lato","fontSize":23,"color":"#2448d0","align":"center","baseline":"middle","angle":270},
 "encoding":{"x":{"field":"x","type":"quantitative","axis":null},"y":{"field":"y","type":"quantitative","axis":null},"text":{"field":"t"}}},
{"data":{"name":"pts"},
 "mark":{"type":"point","shape":"circle","filled":true,"size":17,"opacity":0.95,"color":"#4032e0"},
 "encoding":{
  "x":{"field":"m","type":"quantitative","scale":{"domain":[1.65,1.85],"nice":false,"zero":false},
   "axis":{"orient":"bottom","title":null,"grid":false,
    "values":[1.65,1.65625,1.6625,1.66875,1.675,1.68125,1.6875,1.69375,1.7,1.70625,1.7125,1.71875,1.725,1.73125,1.7375,1.74375,1.75,1.75625,1.7625,1.76875,1.775,1.78125,1.7875,1.79375,1.8,1.80625,1.8125,1.81875,1.825,1.83125,1.8375,1.84375,1.85],
    "tickSize":{"condition":{"test":"abs(datum.value*20-round(datum.value*20))<0.001","value":-8},"value":-4},
    "labelExpr":"abs(datum.value*20-round(datum.value*20))<0.001 ? format(datum.value,'~g') : ''",
    "labelPadding":11,"labelFont":"Liberation Sans","labelFontWeight":"bold","labelFontSize":13,"labelColor":"#333",
    "labelOverlap":false,"labelFlush":false,"domainColor":"#333","tickColor":"#333","zindex":1}},
  "y":{"field":"e","type":"quantitative","scale":{"domain":[-3.5,1.5],"nice":false,"zero":false},
   "axis":{"orient":"left","title":null,"grid":false,"tickCount":100,
    "tickSize":{"condition":{"test":"abs(datum.value*2-round(datum.value*2))<0.001","value":-8},"value":-4},
    "labelExpr":"abs(datum.value*2-round(datum.value*2))<0.001 ? format(datum.value,'~g') : ''",
    "labelPadding":19,"labelFont":"Liberation Sans","labelFontWeight":"bold","labelFontSize":13,"labelColor":"#333",
    "labelOverlap":false,"labelFlush":false,"domainColor":"#333","tickColor":"#333","zindex":1}}}},
{"data":{"values":[{"x":1.65,"x2":1.85,"y":0}]},
 "mark":{"type":"rule","color":"#777","strokeWidth":1,"strokeDash":[2,2]},
 "encoding":{
  "x":{"field":"x","type":"quantitative","scale":{"domain":[1.65,1.85],"nice":false,"zero":false},
   "axis":{"orient":"top","title":null,"grid":false,"labels":false,
    "values":[1.65,1.65625,1.6625,1.66875,1.675,1.68125,1.6875,1.69375,1.7,1.70625,1.7125,1.71875,1.725,1.73125,1.7375,1.74375,1.75,1.75625,1.7625,1.76875,1.775,1.78125,1.7875,1.79375,1.8,1.80625,1.8125,1.81875,1.825,1.83125,1.8375,1.84375,1.85],
    "tickSize":{"condition":{"test":"abs(datum.value*20-round(datum.value*20))<0.001","value":-8},"value":-4},
    "domainColor":"#333","tickColor":"#333","zindex":1}},
  "x2":{"field":"x2"},
  "y":{"field":"y","type":"quantitative","scale":{"domain":[-3.5,1.5],"nice":false,"zero":false},
   "axis":{"orient":"right","title":null,"grid":false,"labels":false,"tickCount":100,
    "tickSize":{"condition":{"test":"abs(datum.value*2-round(datum.value*2))<0.001","value":-8},"value":-4},
    "domainColor":"#333","tickColor":"#333","zindex":1}}}},
{"data":{"values":[{"x":1.7877,"y":-0.157}]},
 "mark":{"type":"point","shape":"M-0.814,0A0.814,1,0,1,0,0.814,0A0.814,1,0,1,0,-0.814,0","size":32761,"filled":false,"color":"#f01e1e","strokeWidth":3,"opacity":1},
 "encoding":{"x":{"field":"x","type":"quantitative","axis":null},"y":{"field":"y","type":"quantitative","axis":null}}},
{"data":{"values":[{"x":1.7872,"y":-0.0685}]},
 "mark":{"type":"point","shape":"M-0.716,0A0.716,1,0,1,0,0.716,0A0.716,1,0,1,0,-0.716,0","size":5685,"filled":false,"color":"#1fb84a","strokeWidth":2.5,"opacity":1},
 "encoding":{"x":{"field":"x","type":"quantitative","axis":null},"y":{"field":"y","type":"quantitative","axis":null}}},
{"data":{"values":[
  {"x":1.7162,"y":1.8426,"t":"6080 μγ combinations"},
  {"x":1.7031,"y":0.8889,"t":"2σ contours"},
  {"x":1.7758,"y":1.0185,"t":"500"},
  {"x":1.7845,"y":0.2037,"t":"30"},
  {"x":1.874,"y":-1.685,"t":"linear"},
  {"x":1.874,"y":-2.1296,"t":"rise"}]},
 "mark":{"type":"text","font":"Lato","fontSize":16,"align":"center","baseline":"middle"},
 "encoding":{"x":{"field":"x","type":"quantitative","axis":null},"y":{"field":"y","type":"quantitative","axis":null},"text":{"field":"t"},
  "color":{"field":"t","type":"nominal","legend":null,"scale":{"domain":["6080 μγ combinations","2σ contours","500","30","linear","rise"],"range":["#5563dc","#333333","#ee2020","#1faa48","#4a5ce0","#4a5ce0"]}}}},
{"data":{"values":[{"x":1.8049,"y":2.7037,"t":"“ILD”"},{"x":1.8591,"y":1.9259,"t":"“BaBar”"}]},
 "mark":{"type":"text","font":"Lato","fontSize":14,"fontWeight":"bold","align":"center","baseline":"middle"},
 "encoding":{"x":{"field":"x","type":"quantitative","axis":null},"y":{"field":"y","type":"quantitative","axis":null},"text":{"field":"t"},
  "color":{"field":"t","type":"nominal","legend":null,"scale":{"domain":["“ILD”","“BaBar”"],"range":["#ee3030","#1fb04a"]}}}},
{"data":{"values":[{"x":1.7445,"y":-4.148,"t":"flat"}]},
 "mark":{"type":"text","font":"Lato","fontSize":21,"color":"#3f55e0","align":"center","baseline":"middle"},
 "encoding":{"x":{"field":"x","type":"quantitative","axis":null},"y":{"field":"y","type":"quantitative","axis":null},"text":{"field":"t"}}},
{"data":{"values":[{"x":1.5155,"x2":1.5424,"y":0.9444,"y2":0.9444}]},
 "mark":{"type":"rule","color":"#e8231d","strokeWidth":3},
 "encoding":{"x":{"field":"x","type":"quantitative","axis":null},"x2":{"field":"x2"},"y":{"field":"y","type":"quantitative","axis":null},"y2":{"field":"y2"}}},
{"data":{"values":[{"x":1.8064,"x2":1.8005,"y":2.4074,"y2":1.58}]},
 "mark":{"type":"rule","color":"#ee3030","strokeWidth":1.5},
 "encoding":{"x":{"field":"x","type":"quantitative","axis":null},"x2":{"field":"x2"},"y":{"field":"y","type":"quantitative","axis":null},"y2":{"field":"y2"}}},
{"data":{"values":[{"x":1.8529,"x2":1.8085,"y":1.6481,"y2":0.4074}]},
 "mark":{"type":"rule","color":"#1fb84a","strokeWidth":2},
 "encoding":{"x":{"field":"x","type":"quantitative","axis":null},"x2":{"field":"x2"},"y":{"field":"y","type":"quantitative","axis":null},"y2":{"field":"y2"}}},
{"data":{"values":[{"x":1.6042,"x2":1.65,"y":1.463,"y2":1.5},{"x":1.6049,"x2":1.65,"y":-2.8148,"y2":-3.4815}]},
 "mark":{"type":"rule","color":"#2ad05a","strokeWidth":2.5,"strokeDash":[6,4]},
 "encoding":{"x":{"field":"x","type":"quantitative","axis":null},"x2":{"field":"x2"},"y":{"field":"y","type":"quantitative","axis":null},"y2":{"field":"y2"}}},
{"data":{"values":[
  {"x":1.874,"x2":1.874,"y":-0.0926,"y2":-1.3333},
  {"x":1.874,"x2":1.874,"y":-2.4444,"y2":-3.45},
  {"x":1.652,"x2":1.73,"y":-4.2407,"y2":-4.2407},
  {"x":1.7613,"x2":1.846,"y":-4.2407,"y2":-4.2407}]},
 "mark":{"type":"rule","color":"#3f55e0","strokeWidth":2},
 "encoding":{"x":{"field":"x","type":"quantitative","axis":null},"x2":{"field":"x2"},"y":{"field":"y","type":"quantitative","axis":null},"y2":{"field":"y2"}}},
{"data":{"values":[{"x":1.5438,"y":0.9444}]},
 "mark":{"type":"point","shape":"triangle-right","filled":true,"size":130,"color":"#e8231d","opacity":1},
 "encoding":{"x":{"field":"x","type":"quantitative","axis":null},"y":{"field":"y","type":"quantitative","axis":null}}},
{"data":{"values":[{"x":1.8005,"y":1.5556}]},
 "mark":{"type":"point","shape":"triangle-up","angle":190,"filled":true,"size":40,"color":"#ee3030","opacity":1},
 "encoding":{"x":{"field":"x","type":"quantitative","axis":null},"y":{"field":"y","type":"quantitative","axis":null}}},
{"data":{"values":[{"x":1.8085,"y":0.4074}]},
 "mark":{"type":"point","shape":"triangle-up","angle":222,"filled":true,"size":70,"color":"#1fb84a","opacity":1},
 "encoding":{"x":{"field":"x","type":"quantitative","axis":null},"y":{"field":"y","type":"quantitative","axis":null}}},
{"data":{"values":[{"x":1.874,"y":-3.4815}]},
 "mark":{"type":"point","shape":"triangle-down","filled":true,"size":60,"color":"#3f55e0","opacity":1},
 "encoding":{"x":{"field":"x","type":"quantitative","axis":null},"y":{"field":"y","type":"quantitative","axis":null}}},
{"data":{"values":[{"x":1.6507,"y":-4.2407}]},
 "mark":{"type":"point","shape":"triangle-left","filled":true,"size":60,"color":"#3f55e0","opacity":1},
 "encoding":{"x":{"field":"x","type":"quantitative","axis":null},"y":{"field":"y","type":"quantitative","axis":null}}},
{"data":{"values":[{"x":1.8464,"y":-4.2407}]},
 "mark":{"type":"point","shape":"triangle-right","filled":true,"size":60,"color":"#3f55e0","opacity":1},
 "encoding":{"x":{"field":"x","type":"quantitative","axis":null},"y":{"field":"y","type":"quantitative","axis":null}}},
{"data":{"values":[{"x":1.8049,"y":-4.037,"t":"m"},{"x":1.8216,"y":-4.037,"t":"[GeV]"}]},
 "mark":{"type":"text","font":"Liberation Sans","fontWeight":"bold","fontSize":13,"color":"#333","align":"left","baseline":"alphabetic"},
 "encoding":{"x":{"field":"x","type":"quantitative","axis":null},"y":{"field":"y","type":"quantitative","axis":null},"text":{"field":"t"}}},
{"data":{"values":[{"x":1.8122,"y":-4.0926,"t":"μγ"}]},
 "mark":{"type":"text","font":"Liberation Sans","fontWeight":"bold","fontSize":8,"color":"#333","align":"left","baseline":"alphabetic"},
 "encoding":{"x":{"field":"x","type":"quantitative","axis":null},"y":{"field":"y","type":"quantitative","axis":null},"text":{"field":"t"}}},
{"data":{"values":[{"x":1.6216,"y":-0.2778,"t":"E"},{"x":1.6216,"y":0.0556,"t":"-E"},{"x":1.6216,"y":0.7407,"t":" [GeV]"}]},
 "mark":{"type":"text","font":"Liberation Sans","fontWeight":"bold","fontSize":13,"color":"#333","align":"left","baseline":"alphabetic","angle":270},
 "encoding":{"x":{"field":"x","type":"quantitative","axis":null},"y":{"field":"y","type":"quantitative","axis":null},"text":{"field":"t"}}},
{"data":{"values":[{"x":1.6238,"y":-0.1111,"t":"μγ"},{"x":1.6238,"y":0.2963,"t":"beam"}]},
 "mark":{"type":"text","font":"Liberation Sans","fontWeight":"bold","fontSize":8,"color":"#333","align":"left","baseline":"alphabetic","angle":270},
 "encoding":{"x":{"field":"x","type":"quantitative","axis":null},"y":{"field":"y","type":"quantitative","axis":null},"text":{"field":"t"}}}
]
}
